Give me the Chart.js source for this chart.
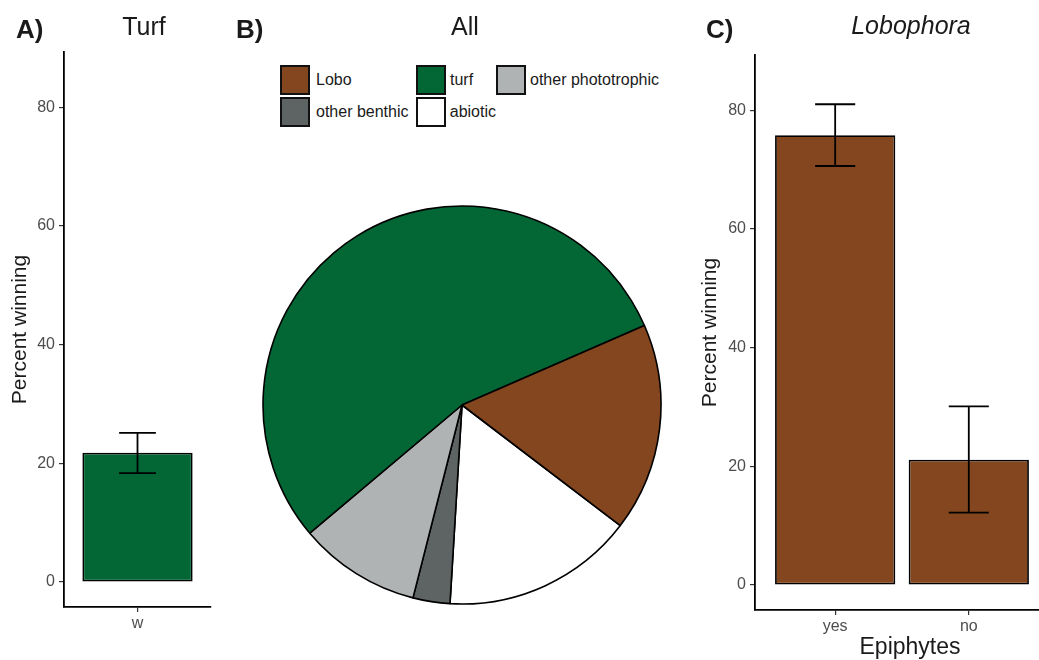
<!DOCTYPE html>
<html>
<head>
<meta charset="utf-8">
<script src="https://cdn.jsdelivr.net/npm/chart.js@4.4.1/dist/chart.umd.min.js"></script>
<style>
  html, body { margin: 0; padding: 0; background: #fff; width: 1039px; height: 660px; overflow: hidden; }
  #wrap { position: relative; width: 1039px; height: 660px; overflow: hidden; font-family: "Liberation Sans", Arial, sans-serif; color: #1a1a1a; }
  .cv { position: absolute; }
  .tag { position: absolute; font-weight: bold; font-size: 26px; line-height: 26px; }
  .ttl { position: absolute; font-size: 25px; line-height: 26px; white-space: nowrap; transform: translateX(-50%); }
  #legend { position: absolute; left: 280px; top: 64px; display: grid; grid-template-columns: 136px 80px auto; font-size: 16px; }
  .item { display: flex; align-items: center; height: 32px; }
  .sw { box-sizing: border-box; width: 30px; height: 30px; border: 2px solid #111; margin-right: 4px; }
  .item:first-child .sw, .item:nth-child(4) .sw { margin-right: 6px; }
</style>
</head>
<body>
<div id="wrap">
  <div class="cv" style="left:0;top:0;width:225px;height:660px;"><canvas id="turfChart"></canvas></div>
  <div class="cv" style="left:262px;top:205px;width:400px;height:400px;"><canvas id="allChart"></canvas></div>
  <div class="cv" style="left:690px;top:0;width:375px;height:660px;"><canvas id="loboChart"></canvas></div>

  <div class="tag" style="left:16px;top:16px;">A)</div>
  <div class="ttl" style="left:144px;top:13px;">Turf</div>
  <div class="tag" style="left:236px;top:16px;">B)</div>
  <div class="ttl" style="left:465px;top:13px;">All</div>
  <div class="tag" style="left:706px;top:16px;">C)</div>
  <div class="ttl" style="left:911px;top:12px;font-style:italic;">Lobophora</div>
  <div id="legend"></div>
</div>

<script>
// datos del panel A (turf)
const turfCats = ["w"];
const turfMean = [21.8];
const turfLow = [18.35];
const turfHigh = [25.15];

// datos del panel B (pastel)
const pieLabels = ["Lobo", "turf", "other phototrophic", "other benthic", "abiotic"];
const pieValues = [16.9, 54.6, 9.9, 3.0, 15.6];
const pieColors = ["#83461E", "#026734", "#B0B3B4", "#5E6364", "#FFFFFF"];

// datos del panel C (Lobophora)
const epiCats = ["yes", "no"];
const epiMean = [75.8, 21.1];
const epiLow = [70.6, 12.2];
const epiHigh = [81.0, 30.1];

const yTicks = [0, 20, 40, 60, 80];

Chart.defaults.font.family = '"Liberation Sans", Arial, sans-serif';
Chart.defaults.animation = false;
Chart.defaults.plugins.tooltip.enabled = false;
Chart.defaults.plugins.legend.display = false;

// barras de error dibujadas con las escalas del grafico
const errorBars = {
  id: "errorBars",
  afterDatasetsDraw(chart, args, opts) {
    const { ctx, scales: { x, y } } = chart;
    ctx.save();
    ctx.strokeStyle = "#000";
    ctx.lineWidth = 1.8;
    opts.low.forEach((lo, i) => {
      const xv = i + 1;
      const xc = x.getPixelForValue(xv);
      const x0 = x.getPixelForValue(xv - 0.15);
      const x1 = x.getPixelForValue(xv + 0.15);
      const yl = y.getPixelForValue(lo);
      const yh = y.getPixelForValue(opts.high[i]);
      ctx.beginPath();
      ctx.moveTo(xc, yl); ctx.lineTo(xc, yh);
      ctx.moveTo(x0, yl); ctx.lineTo(x1, yl);
      ctx.moveTo(x0, yh); ctx.lineTo(x1, yh);
      ctx.stroke();
    });
    ctx.restore();
  }
};

function barOptions(cats, xMax, yWidth, xHeight, padRight, padTop, xTitle) {
  return {
    responsive: true,
    maintainAspectRatio: false,
    layout: { padding: { left: 0, right: padRight, top: padTop, bottom: 0 } },
    scales: {
      x: {
        type: "linear",
        offset: false,
        min: 0.4,
        max: xMax,
        afterBuildTicks: (s) => { s.ticks = cats.map((c, i) => ({ value: i + 1 })); },
        afterFit: (s) => { s.height = xHeight; },
        ticks: {
          callback: (v) => cats[v - 1],
          color: "#4d4d4d",
          font: { size: 16 },
          padding: 2,
          maxRotation: 0,
          autoSkip: false
        },
        grid: { offset: false, drawOnChartArea: false, drawTicks: true, tickLength: 5, color: "#333", lineWidth: 1.2 },
        border: { display: true, color: "#000", width: 1.8 },
        title: {
          display: !!xTitle,
          text: xTitle || "",
          color: "#1a1a1a",
          font: { size: 23, lineHeight: 1 },
          padding: { top: 0, bottom: 1 }
        }
      },
      y: {
        min: -4.2,
        max: 89.3,
        afterBuildTicks: (s) => { s.ticks = yTicks.map((v) => ({ value: v })); },
        afterFit: (s) => { s.width = yWidth; },
        ticks: { color: "#4d4d4d", font: { size: 16 }, padding: 4 },
        grid: { drawOnChartArea: false, drawTicks: true, tickLength: 5, color: "#333", lineWidth: 1.2 },
        border: { display: true, color: "#000", width: 1.8 },
        title: {
          display: true,
          text: "Percent winning",
          color: "#1a1a1a",
          font: { size: 21 },
          padding: { top: 8, bottom: 0 }
        }
      }
    }
  };
}

// Panel A
new Chart(document.getElementById("turfChart"), {
  type: "bar",
  data: {
    datasets: [{
      data: turfMean.map((v, i) => ({ x: i + 1, y: v })),
      backgroundColor: "#026734",
      borderColor: "#000",
      borderWidth: 1.8,
      borderSkipped: false,
      categoryPercentage: 1,
      barPercentage: 0.75
    }]
  },
  options: Object.assign(barOptions(turfCats, 1.6, 64, 53, 14, 52, null), {
    plugins: { errorBars: { low: turfLow, high: turfHigh } }
  }),
  plugins: [errorBars]
});

// Panel B: ggplot gira en sentido antihorario, asi que se invierte el orden
new Chart(document.getElementById("allChart"), {
  type: "pie",
  data: {
    labels: pieLabels.slice().reverse(),
    datasets: [{
      data: pieValues.slice().reverse(),
      backgroundColor: pieColors.slice().reverse(),
      borderColor: "#000",
      borderWidth: 1.6
    }]
  },
  options: {
    responsive: true,
    maintainAspectRatio: false,
    radius: 199,
    rotation: 127.3,
    layout: { padding: 0 }
  }
});

// Panel C
new Chart(document.getElementById("loboChart"), {
  type: "bar",
  data: {
    datasets: [{
      data: epiMean.map((v, i) => ({ x: i + 1, y: v })),
      backgroundColor: "#83461E",
      borderColor: "#000",
      borderWidth: 1.8,
      borderSkipped: false,
      categoryPercentage: 1,
      barPercentage: 0.9
    }]
  },
  options: Object.assign(barOptions(epiCats, 2.72, 65, 50, 0, 55, "Epiphytes"), {
    plugins: { errorBars: { low: epiLow, high: epiHigh } }
  }),
  plugins: [errorBars]
});

// leyenda del pastel
const legend = document.getElementById("legend");
pieLabels.forEach((lab, i) => {
  const item = document.createElement("div");
  item.className = "item";
  const sw = document.createElement("span");
  sw.className = "sw";
  sw.style.background = pieColors[i];
  const tx = document.createElement("span");
  tx.textContent = lab;
  item.appendChild(sw);
  item.appendChild(tx);
  legend.appendChild(item);
});
</script>
</body>
</html>
